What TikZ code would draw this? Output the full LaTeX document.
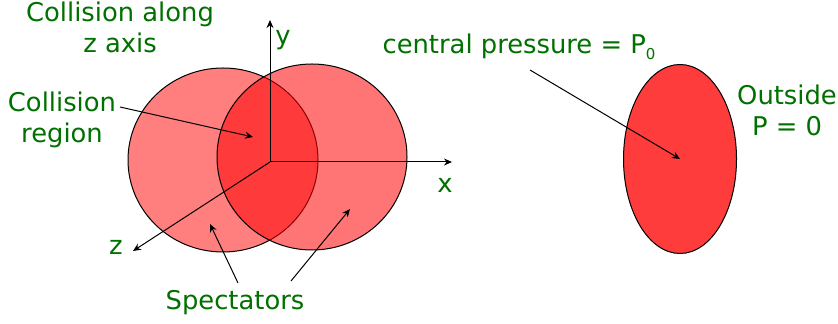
\documentclass[tikz,border=0pt]{standalone}
\usepackage{fontspec}
\setmainfont{DejaVu Sans}
\usepackage{tikz}
\usetikzlibrary{shapes.geometric, arrows.meta, positioning, calc}
\definecolor{labgreen}{RGB}{0,112,0}
\definecolor{nucred}{RGB}{255,0,0}
\definecolor{hotred}{RGB}{255,60,60}

\begin{document}
\begin{tikzpicture}[
    x=0.5pt, y=-0.5pt,
    nucleus/.style={ellipse, draw, line width=0.5pt, inner sep=0pt, fill=nucred},
    lab/.style={text=labgreen, font=\fontsize{12.9}{15.4}\selectfont, align=center, inner sep=1pt},
    ptr/.style={-{Stealth[length=4pt, width=3.5pt]}, line width=0.5pt}
]
\useasboundingbox (0,0) rectangle (838,324);
% the two nuclei
\node[nucleus, fill opacity=0.5, minimum width=95pt, minimum height=92pt] (nucA) at (223,160) {};
\node[nucleus, fill opacity=0.54, minimum width=95pt, minimum height=93pt] (nucB) at (312,157) {};
% axes
\coordinate (O) at (270,162);
\coordinate (ytip) at (270,20);
\coordinate (xtip) at (452,162);
\coordinate (ztip) at (133,251);
\draw[ptr] (O) -- (ytip);
\draw[ptr] (O) -- (xtip);
\draw[ptr] (O) -- (ztip);
\node[lab] (ylab) at (283,40) {y};
\node[lab] (xlab) at (445,185) {x};
\node[lab] (zlab) at (116,247) {z};
% labels on the left
\node[lab] (along) at (120,27) {Collision along\\z axis};
\node[lab] (region) at (62,120) {Collision\\region};
\node[lab] (spec) at (235,303) {Spectators};
\coordinate (regfrom) at (120,107);
\coordinate (regto) at (253,137);
\coordinate (specfromA) at (238,283);
\coordinate (spectoA) at (210,224);
\coordinate (specfromB) at (291,281);
\coordinate (spectoB) at (350,209);
\draw[ptr] (regfrom) -- (regto);
\draw[ptr] (specfromA) -- (spectoA);
\draw[ptr] (specfromB) -- (spectoB);
% fireball after collision
\node[nucleus, fill=hotred, minimum width=56.5pt, minimum height=94.5pt] (ball) at (680,159) {};
\node[lab] (press) at (519,47) {central pressure = P\raisebox{-0.4ex}{\fontsize{7.5}{8}\selectfont 0}};
\node[lab] (outside) at (787,110) {Outside\\P = 0};
\coordinate (pressfrom) at (530,70);
\draw[ptr] (pressfrom) -- (ball.center);
\end{tikzpicture}
\end{document}
